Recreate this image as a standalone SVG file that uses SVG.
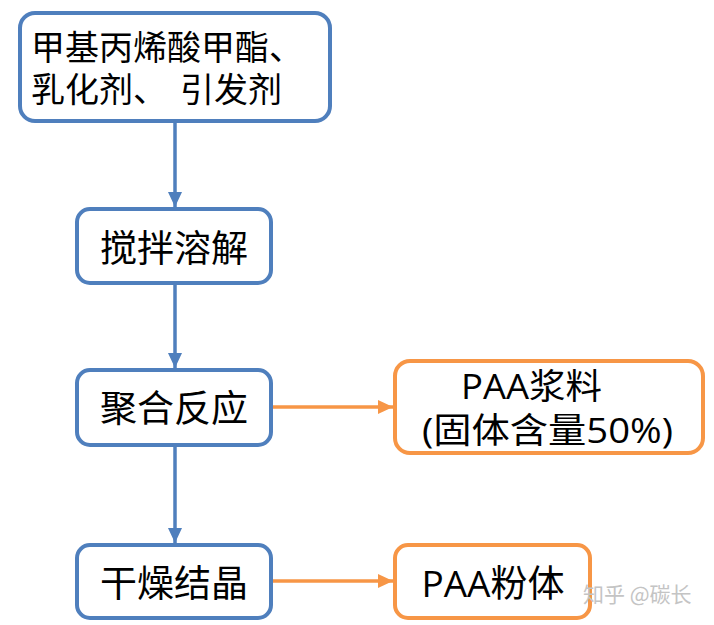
<svg xmlns="http://www.w3.org/2000/svg" width="714" height="625" viewBox="0 0 714 625">
  <style>
    .bg { fill: #ffffff; }
    .nb { fill: #ffffff; stroke: #4F7FBD; stroke-width: 4; }
    .no { fill: #ffffff; stroke: #F79646; stroke-width: 4; }
    .t { font-family: "Open Sans", "Noto Sans CJK SC", sans-serif; fill: #000000; }
    .cb { stroke: #4F7FBD; stroke-width: 3.5; fill: none; }
    .co { stroke: #F79646; stroke-width: 3.5; fill: none; }
    .wm { font-family: "Noto Sans CJK SC", sans-serif; fill: #C4C4C4; font-size: 21px; }
  </style>
  <defs>
    <marker id="ab" markerUnits="userSpaceOnUse" markerWidth="15" markerHeight="14" refX="15" refY="7" orient="auto">
      <path d="M0,0 L15,7 L0,14 z" fill="#4F7FBD"/>
    </marker>
    <marker id="ao" markerUnits="userSpaceOnUse" markerWidth="15" markerHeight="14" refX="15" refY="7" orient="auto">
      <path d="M0,0 L15,7 L0,14 z" fill="#F79646"/>
    </marker>
  </defs>
  <rect class="bg" x="0" y="0" width="714" height="625"/>

  <g id="connectors">
    <line class="cb" x1="175" y1="123" x2="175" y2="207" marker-end="url(#ab)"/>
    <line class="cb" x1="175" y1="285" x2="175" y2="368" marker-end="url(#ab)"/>
    <line class="cb" x1="175" y1="447" x2="175" y2="543" marker-end="url(#ab)"/>
    <line class="co" x1="273" y1="407" x2="393" y2="407" marker-end="url(#ao)"/>
    <line class="co" x1="273" y1="581" x2="393" y2="581" marker-end="url(#ao)"/>
  </g>

  <g id="node-raw">
    <rect class="nb" x="20" y="13" width="310" height="108" rx="15"/>
    <text class="t" x="31" y="60" font-size="34">甲基丙烯酸甲酯、</text>
    <text class="t" y="102" font-size="34"><tspan x="31">乳化剂、</tspan><tspan x="180">引发剂</tspan></text>
  </g>

  <g id="node-stir">
    <rect class="nb" x="77" y="209" width="194" height="74" rx="13"/>
    <text class="t" x="174" y="262" font-size="37" text-anchor="middle">搅拌溶解</text>
  </g>

  <g id="node-poly">
    <rect class="nb" x="77" y="370" width="194" height="75" rx="13"/>
    <text class="t" x="174" y="422" font-size="37" text-anchor="middle">聚合反应</text>
  </g>

  <g id="node-slurry">
    <rect class="no" x="395" y="361" width="308" height="92" rx="15"/>
    <text class="t" x="461" y="399" font-size="35" textLength="141" lengthAdjust="spacingAndGlyphs">PAA浆料</text>
    <text class="t" x="422" y="443" font-size="35" textLength="251" lengthAdjust="spacingAndGlyphs">(固体含量50%)</text>
  </g>

  <g id="node-dry">
    <rect class="nb" x="77" y="545" width="194" height="73" rx="13"/>
    <text class="t" x="174" y="597" font-size="37" text-anchor="middle">干燥结晶</text>
  </g>

  <g id="node-powder">
    <rect class="no" x="395" y="545" width="195" height="73" rx="13"/>
    <text class="t" x="493" y="597" font-size="37" text-anchor="middle">PAA粉体</text>
  </g>

  <text class="wm" x="583" y="602">知乎 @碳长</text>
</svg>
